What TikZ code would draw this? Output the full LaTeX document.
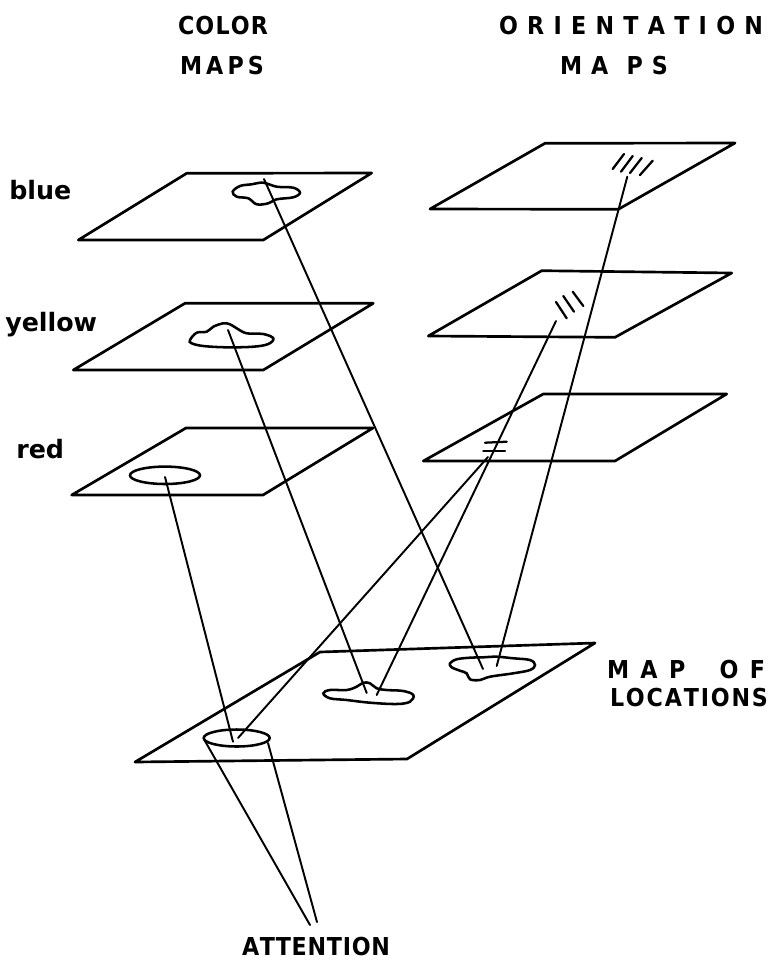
\documentclass[tikz,border=0pt]{standalone}
\usepackage{fontspec}
\setmainfont{DejaVu Sans}
\newfontfamily\capsfont[FakeStretch=0.9]{DejaVu Sans Bold}
\newfontfamily\lowfont{DejaVu Sans Bold}
\newcommand\spr[2]{\hbox to \dimexpr#1pt*3/4\relax{#2}}
\begin{document}
\begin{tikzpicture}[x=0.75pt,y=-0.75pt,
  plane/.style={line width=2pt,line join=round},
  link/.style={line width=1.45pt,line cap=round},
  blob/.style={line width=1.9pt},
  hatch/.style={line width=1.7pt,line cap=round},
  caps/.style={font=\capsfont\fontsize{18.5}{22}\selectfont,inner sep=0pt,anchor=base},
  lower/.style={font=\lowfont\fontsize{19}{22}\selectfont,inner sep=0pt,anchor=base west}]
\path[use as bounding box] (0,0) rectangle (768,965);

% colour planes
\draw[plane] (186.7,173.3) -- (371.7,173) -- (263.3,240) -- (78.3,240) -- cycle;
\draw[plane] (185,303.3) -- (373.3,303.3) -- (263.3,370) -- (73.3,370) -- cycle;
\draw[plane] (186,428) -- (373,428) -- (263,495) -- (71.7,495) -- cycle;
% orientation planes
\draw[plane] (545,143.3) -- (735,143) -- (618.3,209.3) -- (430,209) -- cycle;
\draw[plane] (541.7,270.7) -- (731.7,273) -- (615,337.3) -- (428.3,336) -- cycle;
\draw[plane] (543.3,394) -- (726.7,394) -- (615,461) -- (423.3,461) -- cycle;
% map of locations
\draw[plane] (320,652) -- (595,643) -- (407,759) -- (135,762) -- cycle;

% blobs
\draw[blob] plot[smooth cycle,tension=0.6] coordinates {(232.7,191.7) (240,186) (251.7,184.3) (263.3,182.7) (276.7,186.7) (293.3,187.7) (300,192.7) (293.3,197.3) (276.7,199.3) (268.3,203.3) (256.7,204.3) (248.3,198.3) (236.7,196.7)};
\draw[blob] plot[smooth cycle,tension=0.6] coordinates {(190,340) (196.7,332.7) (206.7,331.7) (213.3,326.7) (223.3,323.3) (230,324.3) (236.7,328.3) (246.7,333.3) (263.3,334) (273.3,338.3) (268.3,344) (253.3,346.7) (226.7,347.3) (203.3,346) (191.7,343.3)};
\draw[blob] (165,475.3) ellipse [x radius=35, y radius=8.7];
\draw[blob] plot[smooth cycle,tension=0.6] coordinates {(323.3,693.3) (330,690) (346.7,690) (356.7,686.7) (363.3,682.7) (370,683.3) (376.7,688.3) (386.7,690) (403.3,691) (413.3,695) (410,701.7) (396.7,704) (370,702.7) (346.7,700) (330,698.3)};
\draw[blob] plot[smooth cycle,tension=0.6] coordinates {(450,663.3) (456.7,659.3) (470,657.7) (483.3,657.3) (496.7,656.7) (513.3,658.3) (530,660) (535,665) (530,670) (513.3,673.3) (490,676.7) (480,680) (470,679.3) (466.7,673.3) (460,670.7) (451.7,667.3)};
\draw[blob] (236.7,738) ellipse [x radius=33, y radius=8.5];

% orientation marks
\draw[hatch] (612.7,169) -- (624,154);
\draw[hatch] (621,171.7) -- (632.7,156);
\draw[hatch] (630,173) -- (641.7,158);
\draw[hatch] (640,175) -- (652.7,160.7);
\draw[hatch] (556,302) -- (566.7,318.3);
\draw[hatch] (563.3,296) -- (574,311.7);
\draw[hatch] (572.7,291.7) -- (583.3,306);
\draw[hatch] (485,442.7) -- (506.7,441.7);
\draw[hatch] (483.3,450.7) -- (505,450.7);

% anchor points
\coordinate (bb) at (264,179);
\coordinate (yb) at (228,330);
\coordinate (rb) at (165,477);
\coordinate (oth) at (627.3,176.7);
\coordinate (omh) at (556,321);
\coordinate (obh) at (488,457);
\coordinate (lr1) at (483,669);
\coordinate (lr2) at (496.7,666);
\coordinate (lm1) at (366.7,693);
\coordinate (lm2) at (376.7,695);
\coordinate (lc1) at (233,741.7);
\coordinate (lc2) at (238,738);
\coordinate (cl) at (205,741);
\coordinate (cr) at (268,743);
\coordinate (a1) at (310,925);
\coordinate (a2) at (317,922);

\draw[link] (bb) -- (lr1);
\draw[link] (oth) -- (lr2);
\draw[link] (yb) -- (lm1);
\draw[link] (omh) -- (lm2);
\draw[link] (rb) -- (lc1);
\draw[link] (obh) -- (lc2);
\draw[link] (cl) -- (a1);
\draw[link] (cr) -- (a2);

% labels
\node[caps] (tcol) at (223,34) {\spr{90}{C\hfil O\hfil L\hfil O\hfil R}};
\node[caps] (tcm) at (222,74) {\spr{84}{M\hfil A\hfil P\hfil S}};
\node[caps] (tor) at (631,34) {\spr{264}{O\hfil R\hfil I\hfil E\hfil N\hfil T\hfil A\hfil T\hfil I\hfil O\hfil N}};
\node[caps] (tom) at (614,74) {\spr{108}{M\hfil A\hfil\hfil P\hfil S}};
\node[lower] (tblue) at (9,199) {blue};
\node[lower] (tyel) at (5,331) {yellow};
\node[lower] (tred) at (16,458) {red};
\node[caps] (tmap) at (686,678) {\spr{158}{M\hfil A\hfil P\hfil\hfil\hfil O\hfil F}};
\node[caps] (tloc) at (689,706) {\spr{158}{L\hfil O\hfil C\hfil A\hfil T\hfil I\hfil O\hfil N\hfil S}};
\node[caps] (tatt) at (316,955) {\spr{148}{A\hfil T\hfil T\hfil E\hfil N\hfil T\hfil I\hfil O\hfil N}};
\end{tikzpicture}
\end{document}
